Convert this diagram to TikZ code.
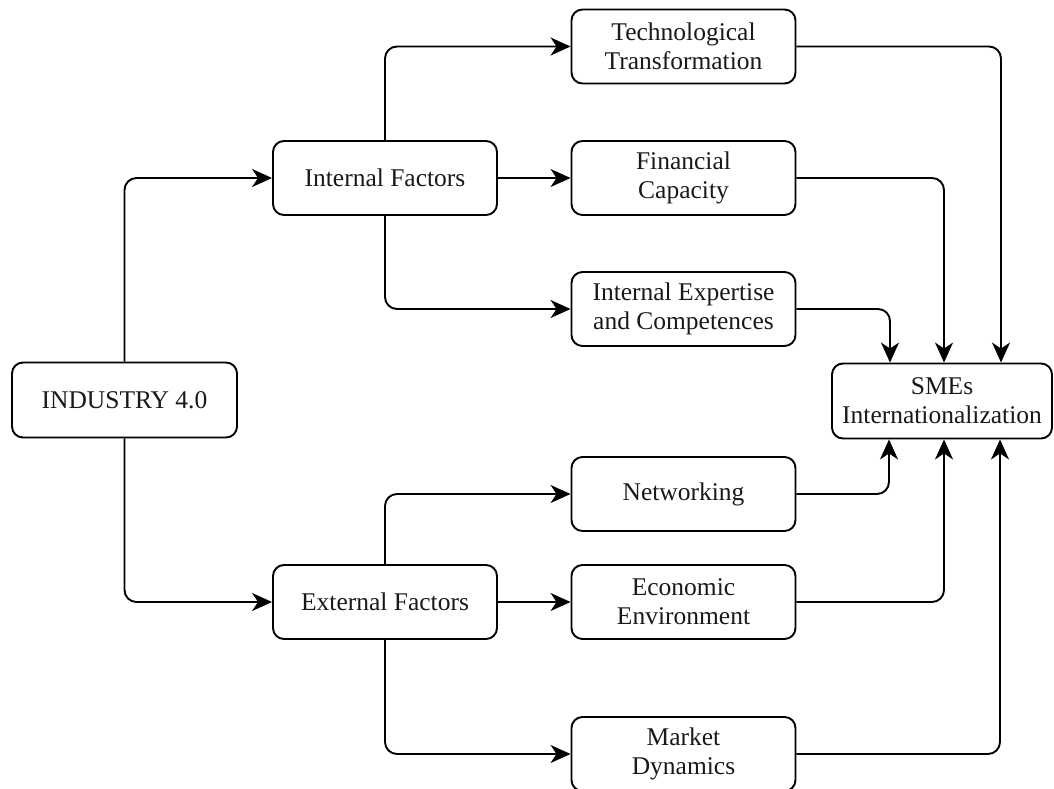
\documentclass[tikz,border=0pt]{standalone}
\usepackage{fontspec}
\setmainfont{Liberation Serif}
\usetikzlibrary{arrows.meta}
\begin{document}
\begin{tikzpicture}[x=1pt,y=-1pt,
 box/.style={draw, line width=1.9pt, rounded corners=11pt, minimum width=224pt, minimum height=74pt, align=center, inner sep=0pt, text=black!90, font=\fontsize{25.5}{29}\selectfont},
 conn/.style={line width=1.9pt, rounded corners=12pt, -{Stealth[length=20pt,width=18pt,inset=6pt]}}
]
\useasboundingbox (0,0) rectangle (1054,789);
\node[box, minimum width=225pt, minimum height=75pt] (ind) at (124.5,400) {INDUSTRY 4.0};
\node[box] (int) at (385,178) {Internal Factors};
\node[box] (ext) at (385,602) {External Factors};
\node[box] (tech) at (683.5,46.5) {Technological\\Transformation};
\node[box] (fin) at (683.5,178) {Financial\\Capacity};
\node[box] (exp) at (683.5,309) {Internal Expertise\\and Competences};
\node[box] (net) at (683.5,494) {Networking};
\node[box] (eco) at (683.5,602) {Economic\\Environment};
\node[box] (mkt) at (683.5,754) {Market\\Dynamics};
\node[box, minimum width=220pt, minimum height=75pt] (sme) at (942,401) {SMEs\\Internationalization};
\draw[conn] (ind.north) |- (int.west);
\draw[conn] (ind.south) |- (ext.west);
\draw[conn] (int.north) |- (tech.west);
\draw[conn] (int.east) -- (fin.west);
\draw[conn] (int.south) |- (exp.west);
\draw[conn] (ext.north) |- (net.west);
\draw[conn] (ext.east) -- (eco.west);
\draw[conn] (ext.south) |- (mkt.west);
\draw[conn] (tech.east) -| ([xshift=59pt]sme.north);
\draw[conn] (fin.east) -| ([xshift=2pt]sme.north);
\draw[conn] (exp.east) -| ([xshift=-52pt]sme.north);
\draw[conn] (net.east) -| ([xshift=-53pt]sme.south);
\draw[conn] (eco.east) -| ([xshift=2pt]sme.south);
\draw[conn] (mkt.east) -| ([xshift=58pt]sme.south);
\end{tikzpicture}
\end{document}
